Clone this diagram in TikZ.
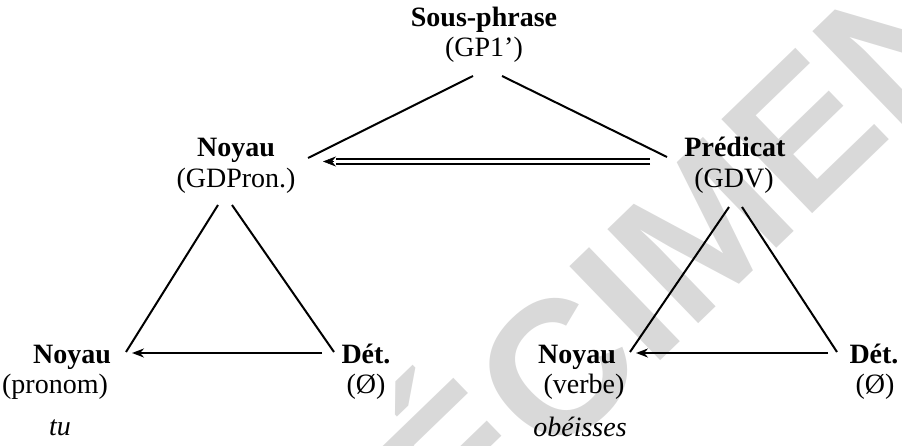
\documentclass[tikz,border=0pt]{standalone}
\usepackage{fontspec}
\setmainfont{Liberation Serif}
\newfontfamily\wmfont{Liberation Sans}
\usetikzlibrary{arrows.meta}
\tikzset{
  lbl/.style={anchor=base, inner sep=0pt, font=\fontsize{28}{28}\selectfont},
  blbl/.style={lbl, font=\fontsize{28}{28}\selectfont\bfseries},
  ilbl/.style={lbl, font=\fontsize{28}{28}\selectfont\itshape},
  edge/.style={line width=2pt},
  arr/.style={line width=2pt, -{Stealth[length=12pt,width=9pt]}},
  tiponly/.style={line width=0.5pt, -{Stealth[length=13pt,width=10pt]}},
}
\begin{document}
\begin{tikzpicture}[x=1pt,y=-1pt]
\useasboundingbox (0,0) rectangle (902,446);
% watermark
\node[rotate=44, anchor=base, text=black!15, inner sep=0pt, font=\fontsize{190}{190}\selectfont\wmfont\bfseries] (wm) at (636,384) {SPÉCIMEN};
% labels
\node[blbl] (sp) at (484,27) {Sous-phrase};
\node[lbl] (gp) at (484,57) {(GP1’)};
\node[blbl] (noy1) at (236,157) {Noyau};
\node[lbl] (gdp) at (236,188) {(GDPron.)};
\node[blbl] (pred) at (735,157) {Prédicat};
\node[lbl] (gdv) at (734,188) {(GDV)};
\node[blbl] (noy2) at (72,363) {Noyau};
\node[lbl] (pron) at (55,393) {(pronom)};
\node[ilbl] (tu) at (60,435) {tu};
\node[blbl] (det1) at (366,363) {Dét.};
\node[lbl] (o1) at (366,393) {(Ø)};
\node[blbl] (noy3) at (577,363) {Noyau};
\node[lbl] (verbe) at (584,393) {(verbe)};
\node[ilbl] (obe) at (580,436) {obéisses};
\node[blbl] (det2) at (874,363) {Dét.};
\node[lbl] (o2) at (875,393) {(Ø)};
% coordinates for connector ends
\coordinate (a1) at (473,76);
\coordinate (a2) at (502,76);
\coordinate (b1) at (308,158);
\coordinate (b2) at (667,157);
\coordinate (d1) at (650,161.5);
\coordinate (d2) at (323,161.5);
\coordinate (d3) at (336,161.5);
\coordinate (d4) at (334,161.5);
\coordinate (l1) at (218,205);
\coordinate (l2) at (232,205);
\coordinate (l3) at (126,352);
\coordinate (l4) at (334,352);
\coordinate (e1) at (322,353);
\coordinate (e2) at (132,353);
\coordinate (r1) at (729,207);
\coordinate (r2) at (742,207);
\coordinate (r3) at (630,352);
\coordinate (r4) at (837,352);
\coordinate (f1) at (828,353);
\coordinate (f2) at (636,353);
% connectors
\draw[edge] (a1) -- (b1);
\draw[edge] (a2) -- (b2);
\draw[line width=6.5pt] (d1) -- (d3);
\draw[line width=2.5pt, white] (d1) -- (d3);
\draw[tiponly] (d4) -- (d2);
\draw[edge] (l1) -- (l3);
\draw[edge] (l2) -- (l4);
\draw[arr] (e1) -- (e2);
\draw[edge] (r1) -- (r3);
\draw[edge] (r2) -- (r4);
\draw[arr] (f1) -- (f2);
\end{tikzpicture}
\end{document}
